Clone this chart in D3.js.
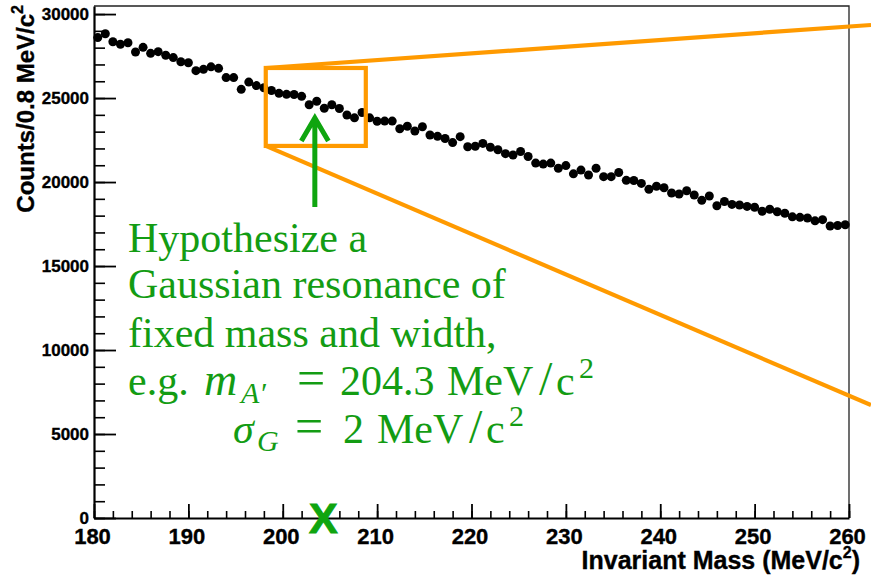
<!DOCTYPE html>
<html lang="en">
<head>
    <meta charset="utf-8" />
    <title>Invariant mass</title>
    <style>
        body { margin: 0; background: white; }
        svg { display: block; }
        .axis text { font-family: 'Liberation Sans', Arial, sans-serif; font-weight: bold; fill: black; stroke: black; stroke-width: 0.35px; }
        .axis path, .axis line { stroke: black; }
        .title { font-family: 'Liberation Sans', Arial, sans-serif; font-weight: bold; fill: black; stroke: black; stroke-width: 0.35px; }
        .note { font-family: 'Liberation Serif', 'Times New Roman', serif; font-size: 42px; fill: #139c13; }
        .note .it { font-style: italic; }
    </style>
    <script src="https://cdn.jsdelivr.net/npm/d3@7"></script>
</head>
<body>
    <svg id="vis"></svg>
    <script>
        // histogram: 0.8 MeV bins from 180 to 260
        var xMin = 180, xMax = 260, binWidth = 0.8;
        var counts = [
            28600, 28830, 28350, 28200, 28290, 27740, 28020, 27660, 27760, 27550,
            27410, 27160, 27100, 26630, 26710, 26860, 26770, 26220, 26220, 25520,
            25950, 25740, 25610, 25450, 25280, 25220, 25210, 25100, 24600, 24810,
            24390, 24600, 24380, 23990, 23820, 24140, 23820, 23620, 23630, 23630,
            23170, 23320, 23040, 23290, 22800, 22720, 22590, 22350, 22700, 22100,
            22130, 22300, 22070, 21920, 21690, 21610, 21820, 21520, 21130, 21070,
            21130, 20820, 20980, 20490, 20710, 20420, 20820, 20320, 20320, 20570,
            20100, 20090, 19920, 19570, 19750, 19660, 19350, 19290, 19480, 19230,
            18910, 19170, 18590, 18840, 18670, 18630, 18550, 18500, 18260, 18380,
            18230, 18140, 17930, 17900, 17860, 17690, 17760, 17380, 17410, 17460
        ];
        var xTicks = [180, 190, 200, 210, 220, 230, 240, 250, 260];
        var yTicks = [0, 5000, 10000, 15000, 20000, 25000, 30000];

        // annotations, in data units
        var zoomBox = { x0: 198.2, x1: 208.8, y0: 22150, y1: 26790 };
        var zoomRayEnds = [29350, 6720]; // where the two rays leave the picture
        var arrowMass = 203.4, arrowTip = 23810, arrowTail = 18510;
        var hypoMass = 204.3;

        var width = 871, height = 575;
        var margin = { top: 6, right: 22, bottom: 57, left: 94 };

        var svg = d3.select("#vis").attr("width", width).attr("height", height);

        var x = d3.scaleLinear().domain([xMin, xMax]).range([margin.left, width - margin.right]);
        var y = d3.scaleLinear().domain([0, 30480]).range([height - margin.bottom, margin.top]);

        // frame (top and right)
        svg.append("path")
            .attr("d", "M" + x(xMin) + "," + y.range()[1] + "H" + x(xMax) + "V" + y.range()[0])
            .attr("fill", "none").attr("stroke", "#222").attr("stroke-width", 1.3);

        // minor ticks
        svg.append("g").attr("class", "axis").attr("transform", "translate(" + margin.left + ",0)")
            .call(d3.axisLeft(y).tickValues(d3.range(0, 30001, 1000)).tickSize(-11).tickFormat(""))
            .call(function (g) { g.select(".domain").remove(); g.selectAll("line").attr("stroke-width", 1.6); });
        svg.append("g").attr("class", "axis").attr("transform", "translate(0," + y(0) + ")")
            .call(d3.axisBottom(x).tickValues(d3.range(xMin, xMax + 0.1, 2)).tickSize(-7).tickFormat(""))
            .call(function (g) { g.select(".domain").remove(); g.selectAll("line").attr("stroke-width", 1.6); });

        // major ticks + labels
        svg.append("g").attr("class", "axis").attr("transform", "translate(" + margin.left + ",0)")
            .call(d3.axisLeft(y).tickValues(yTicks).tickSize(-22).tickSizeOuter(0).tickPadding(5).tickFormat(d3.format("d")))
            .call(function (g) {
                g.select(".domain").attr("stroke-width", 2.2);
                g.selectAll("line").attr("stroke-width", 1.8);
                g.selectAll("text").attr("font-size", 17);
            });
        svg.append("g").attr("class", "axis").attr("transform", "translate(0," + y(0) + ")")
            .call(d3.axisBottom(x).tickValues(xTicks).tickSize(-14).tickSizeOuter(0).tickPadding(10).tickFormat(d3.format("d")))
            .call(function (g) {
                g.select(".domain").attr("stroke-width", 2.2);
                g.selectAll("line").attr("stroke-width", 1.8);
                g.selectAll("text").attr("font-size", 22).attr("dx", -2);
            });

        // axis titles
        var xt = svg.append("text").attr("class", "title").attr("font-size", 25)
            .attr("x", x(xMax) + 11).attr("y", 569).attr("text-anchor", "end");
        xt.append("tspan").text("Invariant Mass (MeV/c");
        xt.append("tspan").attr("font-size", 16).attr("dy", -11).text("2");
        xt.append("tspan").attr("dy", 11).text(")");

        var yt = svg.append("text").attr("class", "title").attr("font-size", 24)
            .attr("transform", "translate(34,5) rotate(-90)").attr("text-anchor", "end");
        yt.append("tspan").text("Counts/0.8 MeV/c");
        yt.append("tspan").attr("font-size", 16).attr("dy", -11).text("2");

        // data points
        svg.append("g").attr("class", "points").selectAll("circle").data(counts)
            .enter().append("circle")
            .attr("cx", function (d, i) { return x(xMin + (i + 0.5) * binWidth); })
            .attr("cy", function (d) { return y(d); })
            .attr("r", 4.5).attr("fill", "black");

        // orange zoom box and rays
        var orange = "#ff9a00";
        var ann = svg.append("g").attr("fill", "none").attr("stroke", orange).attr("stroke-width", 4.2);
        ann.append("rect")
            .attr("x", x(zoomBox.x0)).attr("y", y(zoomBox.y1))
            .attr("width", x(zoomBox.x1) - x(zoomBox.x0)).attr("height", y(zoomBox.y0) - y(zoomBox.y1));
        ann.append("line")
            .attr("x1", x(zoomBox.x0)).attr("y1", y(zoomBox.y1))
            .attr("x2", width).attr("y2", y(zoomRayEnds[0]));
        ann.append("line")
            .attr("x1", x(zoomBox.x0)).attr("y1", y(zoomBox.y0))
            .attr("x2", width).attr("y2", y(zoomRayEnds[1]));

        // green arrow
        var green = "#0fa50f";
        var ax = x(arrowMass), ay = y(arrowTip);
        svg.append("path")
            .attr("d", "M" + ax + "," + y(arrowTail) + "V" + ay + "M" + (ax - 13.5) + "," + (ay + 23) + "L" + ax + "," + ay + "L" + (ax + 13.5) + "," + (ay + 23))
            .attr("fill", "none").attr("stroke", green).attr("stroke-width", 5);

        // X at the hypothesised mass
        svg.append("text").attr("x", x(hypoMass)).attr("y", y(0) + 15)
            .attr("text-anchor", "middle").attr("font-family", "'Liberation Sans', Arial, sans-serif")
            .attr("font-weight", "bold").attr("font-size", 43).attr("fill", green)
            .attr("stroke", green).attr("stroke-width", 1).text("X");

        // annotation text
        var note = svg.append("g").attr("class", "note");
        var lines = ["Hypothesize a", "Gaussian resonance of", "fixed mass and width,"];
        var baselines = [252, 298, 346.5, 395, 443];
        lines.forEach(function (t, i) {
            note.append("text").attr("x", 128).attr("y", baselines[i]).text(t);
        });

        var l4 = note.append("text").attr("y", baselines[3]);
        l4.append("tspan").attr("x", 128).text("e.g.");
        l4.append("tspan").attr("x", 204).attr("class", "it").attr("font-size", 46).text("m");
        l4.append("tspan").attr("x", 241).attr("dy", 8).attr("class", "it").attr("font-size", 30).text("A\u2032");
        l4.append("tspan").attr("x", 297).attr("dy", -8).attr("font-size", 50).text("=");
        l4.append("tspan").attr("x", 340).text("204.3");
        l4.append("tspan").attr("x", 447).text("MeV");
        l4.append("tspan").attr("x", 539).attr("font-size", 48).text("/");
        l4.append("tspan").attr("x", 556).text("c");
        l4.append("tspan").attr("x", 579).attr("dy", -17).attr("font-size", 30).text("2");

        var l5 = note.append("text").attr("y", baselines[4]);
        l5.append("tspan").attr("x", 233).attr("class", "it").text("\u03c3");
        l5.append("tspan").attr("x", 257).attr("dy", 8).attr("class", "it").attr("font-size", 30).text("G");
        l5.append("tspan").attr("x", 295).attr("dy", -8).attr("font-size", 50).text("=");
        l5.append("tspan").attr("x", 343).text("2");
        l5.append("tspan").attr("x", 377).text("MeV");
        l5.append("tspan").attr("x", 469).attr("font-size", 48).text("/");
        l5.append("tspan").attr("x", 486).text("c");
        l5.append("tspan").attr("x", 509).attr("dy", -17).attr("font-size", 30).text("2");
    </script>
</body>
</html>
